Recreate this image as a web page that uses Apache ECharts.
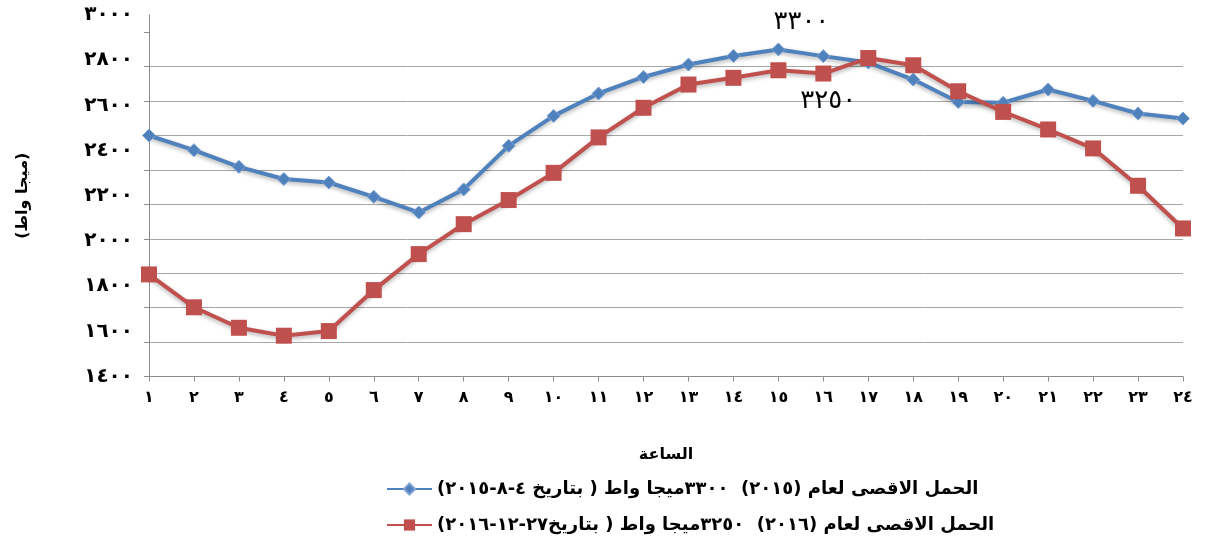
<!DOCTYPE html>
<html>
<head>
<meta charset="utf-8">
<script src="https://cdn.jsdelivr.net/npm/echarts@6/dist/echarts.min.js"></script>
<style>
html,body{margin:0;padding:0;background:#fff;}
#chart{width:1209px;height:542px;}
</style>
</head>
<body>
<div id="chart" dir="rtl"></div>
<script>
// Hours (category labels)
const hours = ['١','٢','٣','٤','٥','٦','٧','٨','٩','١٠','١١','١٢','١٣','١٤','١٥','١٦','١٧','١٨','١٩','٢٠','٢١','٢٢','٢٣','٢٤'];
// Series values (MW)
const load2015 = [2800,2715,2618,2547,2527,2444,2353,2487,2740,2914,3044,3140,3212,3262,3300,3261,3224,3125,2995,2990,3067,3001,2928,2899];
const load2016 = [1993,1802,1683,1637,1664,1902,2111,2285,2425,2583,2789,2961,3096,3135,3179,3160,3250,3208,3057,2937,2835,2725,2508,2260];
// Series names
const name2015 = 'الحمل الاقصى لعام (٢٠١٥)  ٣٣٠٠ميجا واط ( بتاريخ ٤-٨-٢٠١٥)';
const name2016 = 'الحمل الاقصى لعام (٢٠١٦)  ٣٢٥٠ميجا واط ( بتاريخ٢٧-١٢-٢٠١٦)';
// Printed y-axis tick labels (as shown on the chart)
const yLabelTicks = [1400,1600,1800,2000,2200,2400,2600,2800,3000];
// Gridline tick values of the value scale
const gridTicks = [1400,1600,1800,2000,2200,2400,2600,2800,3000,3200,3400];
// Peak annotations
const peak2015Label = '٣٣٠٠';
const peak2016Label = '٣٢٥٠';

const toArabic = v => String(v).replace(/\d/g, d => '٠١٢٣٤٥٦٧٨٩'[d]);
const FONT = "'DejaVu Sans', sans-serif";

const peak15 = load2015.indexOf(Math.max(...load2015));
const peak16 = load2016.indexOf(Math.max(...load2016));

const data2015 = load2015.map((v, i) => i === peak15 ? {
  value: v,
  label: {show: true, position: 'inside', offset: [23, -27], formatter: peak2015Label,
          fontSize: 26, color: '#000', fontFamily: FONT}
} : v);
const data2016 = load2016.map((v, i) => i === peak16 ? {
  value: v,
  label: {show: true, position: 'inside', offset: [-40, 43], formatter: peak2016Label,
          fontSize: 26, color: '#000', fontFamily: FONT}
} : v);

const legendBase = {
  orient: 'horizontal',
  left: 386,
  itemWidth: 45,
  itemHeight: 14,
  padding: 0,
  textStyle: {fontSize: 18, fontWeight: 'bold', color: '#000', fontFamily: FONT}
};

const chart = echarts.init(document.getElementById('chart'), null, {renderer: 'canvas'});
chart.setOption({
  animation: false,
  backgroundColor: '#fff',
  textStyle: {fontFamily: FONT},
  grid: {left: 149, right: 26, top: 15, bottom: 165.5, containLabel: false},
  legend: [
    Object.assign({}, legendBase, {top: 480, data: [name2015]}),
    Object.assign({}, legendBase, {top: 516, data: [name2016]})
  ],
  xAxis: {
    type: 'category',
    data: hours,
    boundaryGap: false,
    name: 'الساعة',
    nameLocation: 'middle',
    nameGap: 70,
    nameTextStyle: {fontSize: 16, fontWeight: 'bold', color: '#000', fontFamily: FONT},
    axisLine: {show: true, lineStyle: {color: '#8c8c8c', width: 1}},
    axisTick: {show: true, length: 5, lineStyle: {color: '#8c8c8c'}},
    axisLabel: {fontSize: 16, fontWeight: 'bold', color: '#000', margin: 13, fontFamily: FONT},
    splitLine: {show: false}
  },
  yAxis: [{
    type: 'value',
    min: 1400,
    max: 3500,
    interval: 200,
    position: 'left',
    name: '(ميجا واط)',
    nameLocation: 'middle',
    nameRotate: 90,
    nameGap: 118,
    nameTextStyle: {fontSize: 16, fontWeight: 'bold', color: '#000', fontFamily: FONT},
    axisLine: {show: true, lineStyle: {color: '#8c8c8c', width: 1}},
    axisTick: {show: true, inside: false, length: 5, customValues: gridTicks, lineStyle: {color: '#8c8c8c'}},
    axisLabel: {show: false},
    splitLine: {show: true, showMaxLine: false, lineStyle: {color: '#a6a6a6', width: 1}}
  }, {
    type: 'value',
    min: 1400,
    max: 3000,
    interval: 200,
    position: 'left',
    axisLine: {show: false},
    axisTick: {show: false},
    splitLine: {show: false},
    axisLabel: {
      show: true, margin: 16, fontSize: 20, fontWeight: 'bold', color: '#000', fontFamily: FONT,
      customValues: yLabelTicks,
      formatter: v => toArabic(v)
    }
  }],
  series: [{
    name: name2015,
    type: 'line',
    yAxisIndex: 0,
    data: data2015,
    symbol: 'diamond',
    symbolSize: 13,
    lineStyle: {color: '#4F81BD', width: 4, shadowBlur: 4, shadowColor: 'rgba(0,0,0,0.3)', shadowOffsetY: 2},
    itemStyle: {color: '#4F81BD', borderColor: '#7ea3d3', borderWidth: 1},
    z: 3
  }, {
    name: name2016,
    type: 'line',
    yAxisIndex: 0,
    data: data2016,
    symbol: 'rect',
    symbolSize: 16,
    lineStyle: {color: '#C0504D', width: 4, shadowBlur: 4, shadowColor: 'rgba(0,0,0,0.3)', shadowOffsetY: 2},
    itemStyle: {color: '#C0504D', borderColor: '#c0504d', borderWidth: 0},
    z: 4
  }]
});
</script>
</body>
</html>
